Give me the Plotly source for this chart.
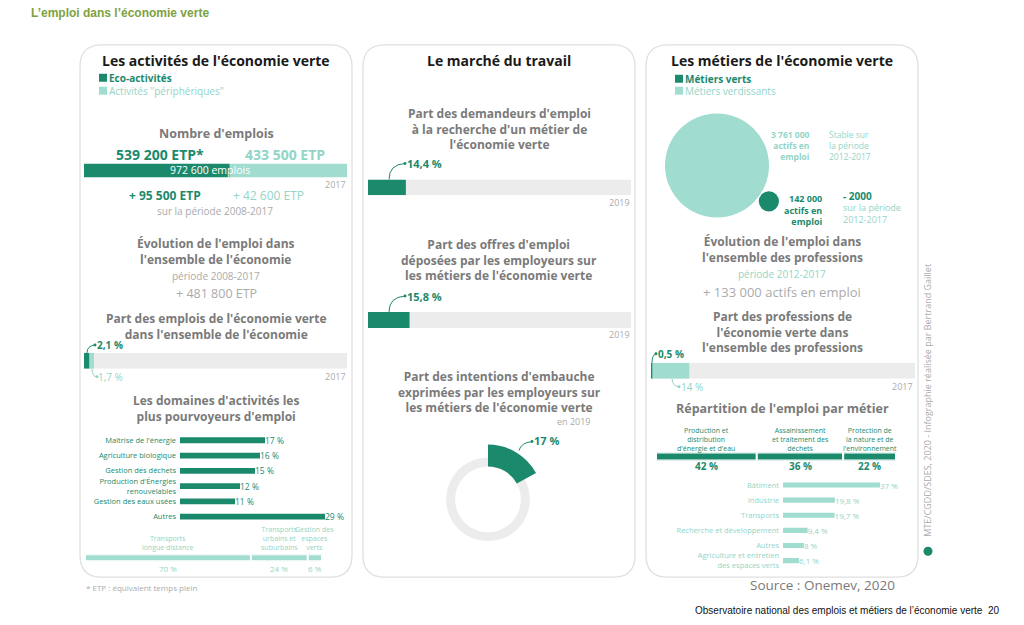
import math
import plotly.graph_objects as go

W, H = 1024, 625
FONT = "Open Sans"
DARK = "#1b8a6c"
LIGHT = "#a0dcd0"
LIGHT_TXT = "#92d5c7"
TRACK = "#ececec"
GREY = "#7a7a7a"
GREY2 = "#ababab"
BORDER = "#e0e0e0"

# ---------------- data ----------------
eco_categories = ["Eco-activités", 'Activités "périphériques"']
eco_jobs = [539200, 433500]
total_jobs = 972600
eco_growth = [95500, 42600]
economy_growth = 481800
green_share_economy = [2.1, 1.7]
domain_labels = ["Maîtrise de l'énergie", "Agriculture biologique", "Gestion des déchets",
                 "Production d'Énergies<br>renouvelables", "Gestion des eaux usées", "Autres"]
domain_shares = [17, 16, 15, 12, 11, 29]
other_labels = ["Transports<br>longue distance", "Transports<br>urbains et<br>suburbains",
                "Gestion des<br>espaces<br>verts"]
other_shares = [70, 24, 6]
market_titles = ["Part des demandeurs d'emploi<br>à la recherche d'un métier de<br>l'économie verte",
                 "Part des offres d'emploi<br>déposées par les employeurs sur<br>les métiers de l'économie verte"]
market_shares = [14.4, 15.8]
market_years = ["2019", "2019"]
hiring_share = 17
metier_categories = ["Métiers verts", "Métiers verdissants"]
metier_jobs = [142000, 3761000]
metier_change = ["- 2000", "Stable sur"]
profession_growth = 133000
profession_share = [0.5, 14]
repart_labels = ["Production et<br>distribution<br>d'énergie et d'eau",
                 "Assainissement<br>et traitement des<br>déchets",
                 "Protection de<br>la nature et de<br>l'environnement"]
repart_shares = [42, 36, 22]
job_labels = ["Bâtiment", "Industrie", "Transports", "Recherche et développement", "Autres",
              "Agriculture et entretien<br>des espaces verts"]
job_shares = [37, 19.8, 19.7, 9.4, 8, 6.1]


def fr_int(v):
    return f"{v:,}".replace(",", " ")


def fr_pct(v):
    return f"{v:g}".replace(".", ",") + " %"


def fx(x):
    return x / W


def fy(y):
    return 1 - y / H


ann = []
shapes = []
layout_axes = {}
traces = []
_n = [0]


def text(x, y, s, size=10, color=GREY, bold=False, align="center", family=FONT,
         xref="paper", angle=0, yanchor="middle"):
    body = "<br>".join(f"<b>{l}</b>" if bold else l for l in s.split("<br>"))
    ann.append(dict(x=fx(x) if xref == "paper" else x, y=fy(y), xref=xref, yref="paper",
                    text=body, showarrow=False, align=align,
                    xanchor=align, yanchor=yanchor, textangle=angle, borderpad=0,
                    font=dict(family=family, size=size, color=color)))


def axes(x0, x1, y0, y1, xrange, yrange, ycat=None, tickfont=None):
    _n[0] += 1
    n = _n[0]
    s = "" if n == 1 else str(n)
    layout_axes[f"xaxis{s}"] = dict(domain=[fx(x0), fx(x1)], range=xrange, visible=False,
                                    anchor=f"y{s}", fixedrange=True)
    ya = dict(domain=[fy(y1), fy(y0)], range=yrange, anchor=f"x{s}", fixedrange=True,
              showgrid=False, zeroline=False, showline=False)
    if ycat is not None:
        ya.update(type="category", categoryorder="array", categoryarray=ycat, ticks="",
                  showticklabels=True, tickfont=tickfont, ticklabelstandoff=3)
    else:
        ya.update(visible=False)
    layout_axes[f"yaxis{s}"] = ya
    return f"x{s}", f"y{s}"


def hbar(xa, ya, x, y, color, base=None, width=1.0, text=None, tfont=None, line=None):
    traces.append(go.Bar(x=x, y=y, base=base, orientation="h", xaxis=xa, yaxis=ya, width=width,
                         marker=dict(color=color, line=line or dict(width=0)),
                         text=text, textposition="outside" if text else "none",
                         outsidetextfont=tfont, constraintext="none", cliponaxis=False,
                         hoverinfo="skip", showlegend=False))


def rounded_rect(x0, y0, x1, y1, r):
    rx, ry = r / W, r / H
    X0, X1, Y0, Y1 = fx(x0), fx(x1), fy(y0), fy(y1)
    p = (f"M {X0+rx},{Y0} L {X1-rx},{Y0} Q {X1},{Y0} {X1},{Y0-ry} L {X1},{Y1+ry} "
         f"Q {X1},{Y1} {X1-rx},{Y1} L {X0+rx},{Y1} Q {X0},{Y1} {X0},{Y1+ry} "
         f"L {X0},{Y0-ry} Q {X0},{Y0} {X0+rx},{Y0} Z")
    shapes.append(dict(type="path", path=p, xref="paper", yref="paper", layer="below",
                       line=dict(color=BORDER, width=1.3), fillcolor="white"))


def pointer(p0, c, p1, color):
    p = f"M {fx(p0[0])},{fy(p0[1])} Q {fx(c[0])},{fy(c[1])} {fx(p1[0])},{fy(p1[1])}"
    shapes.append(dict(type="path", path=p, xref="paper", yref="paper",
                       line=dict(color=color, width=1)))
    shapes.append(dict(type="circle", xref="paper", yref="paper", fillcolor=color,
                       line=dict(width=0), x0=fx(p1[0] - 1.5), x1=fx(p1[0] + 1.5),
                       y0=fy(p1[1] + 1.5), y1=fy(p1[1] - 1.5)))


def square(x, y, color):
    shapes.append(dict(type="rect", xref="paper", yref="paper", fillcolor=color, line=dict(width=0),
                       x0=fx(x), x1=fx(x + 8), y0=fy(y + 8), y1=fy(y)))


SUB = 12      # size of the grey sub-titles

# ---------------- page ----------------
text(30, 13, "L’emploi dans l’économie verte", 12, "#7da23f", True, "left", "Liberation Sans")
text(1000, 612, "Observatoire national des emplois et métiers de l’économie verte  20", 10,
     "#111111", False, "right", "Liberation Sans")

for x0, x1 in [(80, 352), (363, 635), (646, 918)]:
    rounded_rect(x0, 45, x1, 579, 22)

# ================= LEFT PANEL =================
text(216, 61, "Les activités de l'économie verte", 14, "#1a1a1a", True)
square(99, 74, DARK)
square(99, 87, LIGHT)
text(108, 78, eco_categories[0], 10, DARK, True, "left")
text(108, 91, eco_categories[1], 10, LIGHT_TXT, False, "left")

text(216, 134, "Nombre d'emplois", 12.5, GREY, True)
text(160, 155, fr_int(eco_jobs[0]) + " ETP*", 14, DARK, True)
text(285, 155, fr_int(eco_jobs[1]) + " ETP", 14, LIGHT_TXT, True)
xa, ya = axes(84, 347, 164, 178, [0, sum(eco_jobs)], [-0.5, 0.5])
hbar(xa, ya, [eco_jobs[0]], [0], DARK, base=[0])
hbar(xa, ya, [eco_jobs[1]], [0], LIGHT, base=[eco_jobs[0]])
text(total_jobs * 0.48, 171, fr_int(total_jobs) + " emplois", 10.5, "white", False, "center", xref=xa)
text(347, 185, "2017", 9, GREY2, False, "right")
text(165, 196, "+ " + fr_int(eco_growth[0]) + " ETP", 12, DARK, True)
text(268, 196, "+ " + fr_int(eco_growth[1]) + " ETP", 12, LIGHT_TXT, False)
text(215, 212, "sur la période 2008-2017", 10, GREY2)

text(216, 252, "Évolution de l'emploi dans<br>l'ensemble de l'économie", SUB, GREY, True)
text(216, 277, "période 2008-2017", 10, GREY2)
text(216, 294, "+ " + fr_int(economy_growth) + " ETP", 12.5, GREY2)

text(216, 328, "Part des emplois de l'économie verte<br>dans l'ensemble de l'économie", SUB, GREY, True)
xa, ya = axes(84, 347, 354, 370, [0, 100], [-0.5, 0.5])
hbar(xa, ya, [100], [0], TRACK, base=[0])
hbar(xa, ya, [green_share_economy[0]], [0], DARK, base=[0])
hbar(xa, ya, [green_share_economy[1]], [0], LIGHT, base=[green_share_economy[0]])
pointer((87, 354), (87, 347), (95, 346), DARK)
text(96, 346, fr_pct(green_share_economy[0]), 10, DARK, True, "left")
pointer((92, 370), (92, 378), (97, 378), LIGHT_TXT)
text(97, 378, fr_pct(green_share_economy[1]), 10, LIGHT_TXT, False, "left")
text(347, 378, "2017", 9, GREY2, False, "right")

text(216, 410, "Les domaines d'activités les<br>plus pourvoyeurs d'emploi", SUB, GREY, True)
xa, ya = axes(180, 325, 434, 526, [0, max(domain_shares)], [len(domain_labels) - 0.5, -0.5],
              ycat=domain_labels, tickfont=dict(family=FONT, size=7.5, color=DARK))
hbar(xa, ya, domain_shares, domain_labels, DARK, width=0.38,
     text=[fr_pct(v) for v in domain_shares], tfont=dict(family=FONT, size=8.5, color=DARK))

xa, ya = axes(85, 322, 556, 563, [0, 100], [-0.5, 0.5])
b = 0
for lab, v in zip(other_labels, other_shares):
    hbar(xa, ya, [v], [0], LIGHT, base=[b], line=dict(color="white", width=2))
    text(b + v / 2, 555, lab, 7, LIGHT_TXT, False, "center", xref=xa, yanchor="bottom")
    text(b + v / 2, 570, fr_pct(v), 8, LIGHT_TXT, False, "center", xref=xa)
    b += v
text(85, 589, "* ETP : équivalent temps plein", 8, GREY2, False, "left")

# ================= MIDDLE PANEL =================
text(499, 61, "Le marché du travail", 14, "#1a1a1a", True)
for i, (title, v, yr) in enumerate(zip(market_titles, market_shares, market_years)):
    text(499, 129 + i * 132, title, SUB, GREY, True)
    by = 180 + i * 133
    xa, ya = axes(368, 631, by, by + 16, [0, 100], [-0.5, 0.5])
    hbar(xa, ya, [100], [0], TRACK, base=[0])
    hbar(xa, ya, [v], [0], DARK, base=[0])
    pointer((389, by), (389, by - 15), (405, by - 16), DARK)
    text(406, by - 16, fr_pct(v), 11, DARK, True, "left")
    text(631, by + 23, yr, 9, GREY2, False, "right")

text(499, 393, "Part des intentions d'embauche<br>exprimées par les employeurs sur<br>"
     "les métiers de l'économie verte", SUB, GREY, True)
text(592, 423, "en 2019", 9, GREY2, False, "right")
cx, cy, r_ring, r_in, r_out = 488, 501, 42, 33, 55
traces.append(go.Pie(values=[100], marker=dict(colors=[TRACK]), hole=r_in / r_ring, sort=False,
                     textinfo="none", hoverinfo="skip", showlegend=False,
                     domain=dict(x=[fx(cx - r_ring), fx(cx + r_ring)],
                                 y=[fy(cy + r_ring), fy(cy - r_ring)])))
traces.append(go.Pie(values=[hiring_share, 100 - hiring_share],
                     marker=dict(colors=[DARK, "rgba(0,0,0,0)"]), hole=r_in / r_out, sort=False,
                     direction="clockwise", rotation=0, textinfo="none", hoverinfo="skip",
                     showlegend=False,
                     domain=dict(x=[fx(cx - r_out), fx(cx + r_out)],
                                 y=[fy(cy + r_out), fy(cy - r_out)])))
pointer((519, 452), (521, 444), (532, 443), DARK)
text(533, 442, fr_pct(hiring_share), 11, DARK, True, "left")

# ================= RIGHT PANEL =================
text(782, 61, "Les métiers de l'économie verte", 14, "#1a1a1a", True)
square(675, 75, DARK)
square(675, 87, LIGHT)
text(684, 79, metier_categories[0], 10, DARK, True, "left")
text(684, 91, metier_categories[1], 10, LIGHT_TXT, False, "left")

R_BIG = 52
sizeref = max(metier_jobs) / (2 * R_BIG ** 2)
radii = [math.sqrt(v / (2 * sizeref)) for v in metier_jobs]
xa, ya = axes(650, 840, 100, 235, [0, 190], [135, 0])
big_c = (67, 66)
ang = math.radians(34.7)
dist = radii[0] + radii[1] + 1
small_c = (big_c[0] + dist * math.cos(ang), big_c[1] + dist * math.sin(ang))
traces.append(go.Scatter(x=[big_c[0], small_c[0]], y=[big_c[1], small_c[1]], xaxis=xa, yaxis=ya,
                         mode="markers", hoverinfo="skip", showlegend=False, cliponaxis=False,
                         marker=dict(size=[metier_jobs[1], metier_jobs[0]], sizemode="area",
                                     sizeref=sizeref, color=[LIGHT, DARK], opacity=1,
                                     line=dict(width=0))))
text(811, 146, fr_int(metier_jobs[1]) + "<br>actifs en<br>emploi", 8.5, LIGHT_TXT, True, "right")
text(828, 146, "Stable sur<br>la période<br>2012-2017", 8.5, LIGHT_TXT, False, "left")
text(823, 211, fr_int(metier_jobs[0]) + "<br>actifs en<br>emploi", 9, DARK, True, "right")
text(842, 197, metier_change[0], 10, DARK, True, "left")
text(842, 214, "sur la période<br>2012-2017", 9, LIGHT_TXT, False, "left")

text(782, 250, "Évolution de l'emploi dans<br>l'ensemble des professions", SUB, GREY, True)
text(782, 275, "période 2012-2017", 10, LIGHT_TXT)
text(782, 293, "+ " + fr_int(profession_growth) + " actifs en emploi", 13, GREY2)

text(782, 333, "Part des professions de<br>l'économie verte dans<br>l'ensemble des professions",
     SUB, GREY, True)
xa, ya = axes(651, 915, 364, 380, [0, 100], [-0.5, 0.5])
hbar(xa, ya, [100], [0], TRACK, base=[0])
hbar(xa, ya, [profession_share[0]], [0], DARK, base=[0])
hbar(xa, ya, [profession_share[1]], [0], LIGHT, base=[profession_share[0]])
pointer((652, 364), (652, 356), (656, 355), DARK)
text(657, 355, fr_pct(profession_share[0]), 10, DARK, True, "left")
pointer((672, 380), (673, 388), (679, 388), LIGHT_TXT)
text(680, 388, fr_pct(profession_share[1]), 10, LIGHT_TXT, False, "left")
text(914, 388, "2017", 9, GREY2, False, "right")

text(782, 410, "Répartition de l'emploi par métier", 12.5, GREY, True)
xa, ya = axes(656, 896, 454, 462, [0, 100], [-0.5, 0.5])
b = 0
for lab, v in zip(repart_labels, repart_shares):
    hbar(xa, ya, [v], [0], DARK, base=[b], line=dict(color="white", width=2))
    text(b + v / 2, 455, lab, 7, DARK, False, "center", xref=xa, yanchor="bottom")
    text(b + v / 2, 467, fr_pct(v), 10, DARK, True, "center", xref=xa)
    b += v

xa, ya = axes(783, 914, 479, 570, [0, 50], [len(job_labels) - 0.5, -0.5], ycat=job_labels,
              tickfont=dict(family=FONT, size=7.5, color=LIGHT_TXT))
hbar(xa, ya, job_shares, job_labels, LIGHT, width=0.34,
     text=[fr_pct(v) for v in job_shares], tfont=dict(family=FONT, size=8, color=LIGHT_TXT))

text(822, 587, "Source : Onemev, 2020", 13.5, GREY)
text(928, 402, "MTE/CGDD/SDES, 2020 - Infographie réalisée par Bertrand Gaillet", 9, GREY2,
     False, "center", angle=-90)
shapes.append(dict(type="circle", xref="paper", yref="paper", fillcolor=DARK, line=dict(width=0),
                   x0=fx(923.5), x1=fx(932.5), y0=fy(557.5), y1=fy(548.5)))

fig = go.Figure(data=traces)
fig.update_layout(width=W, height=H, margin=dict(l=0, r=0, t=0, b=0), autosize=False,
                  paper_bgcolor="white", plot_bgcolor="rgba(0,0,0,0)", barmode="overlay",
                  hovermode=False, showlegend=False, annotations=ann, shapes=shapes,
                  font=dict(family=FONT), **layout_axes)
fig.write_html("out.html", config={"displayModeBar": False},
               post_script="document.body.style.margin='0';document.body.style.overflow='hidden';")
